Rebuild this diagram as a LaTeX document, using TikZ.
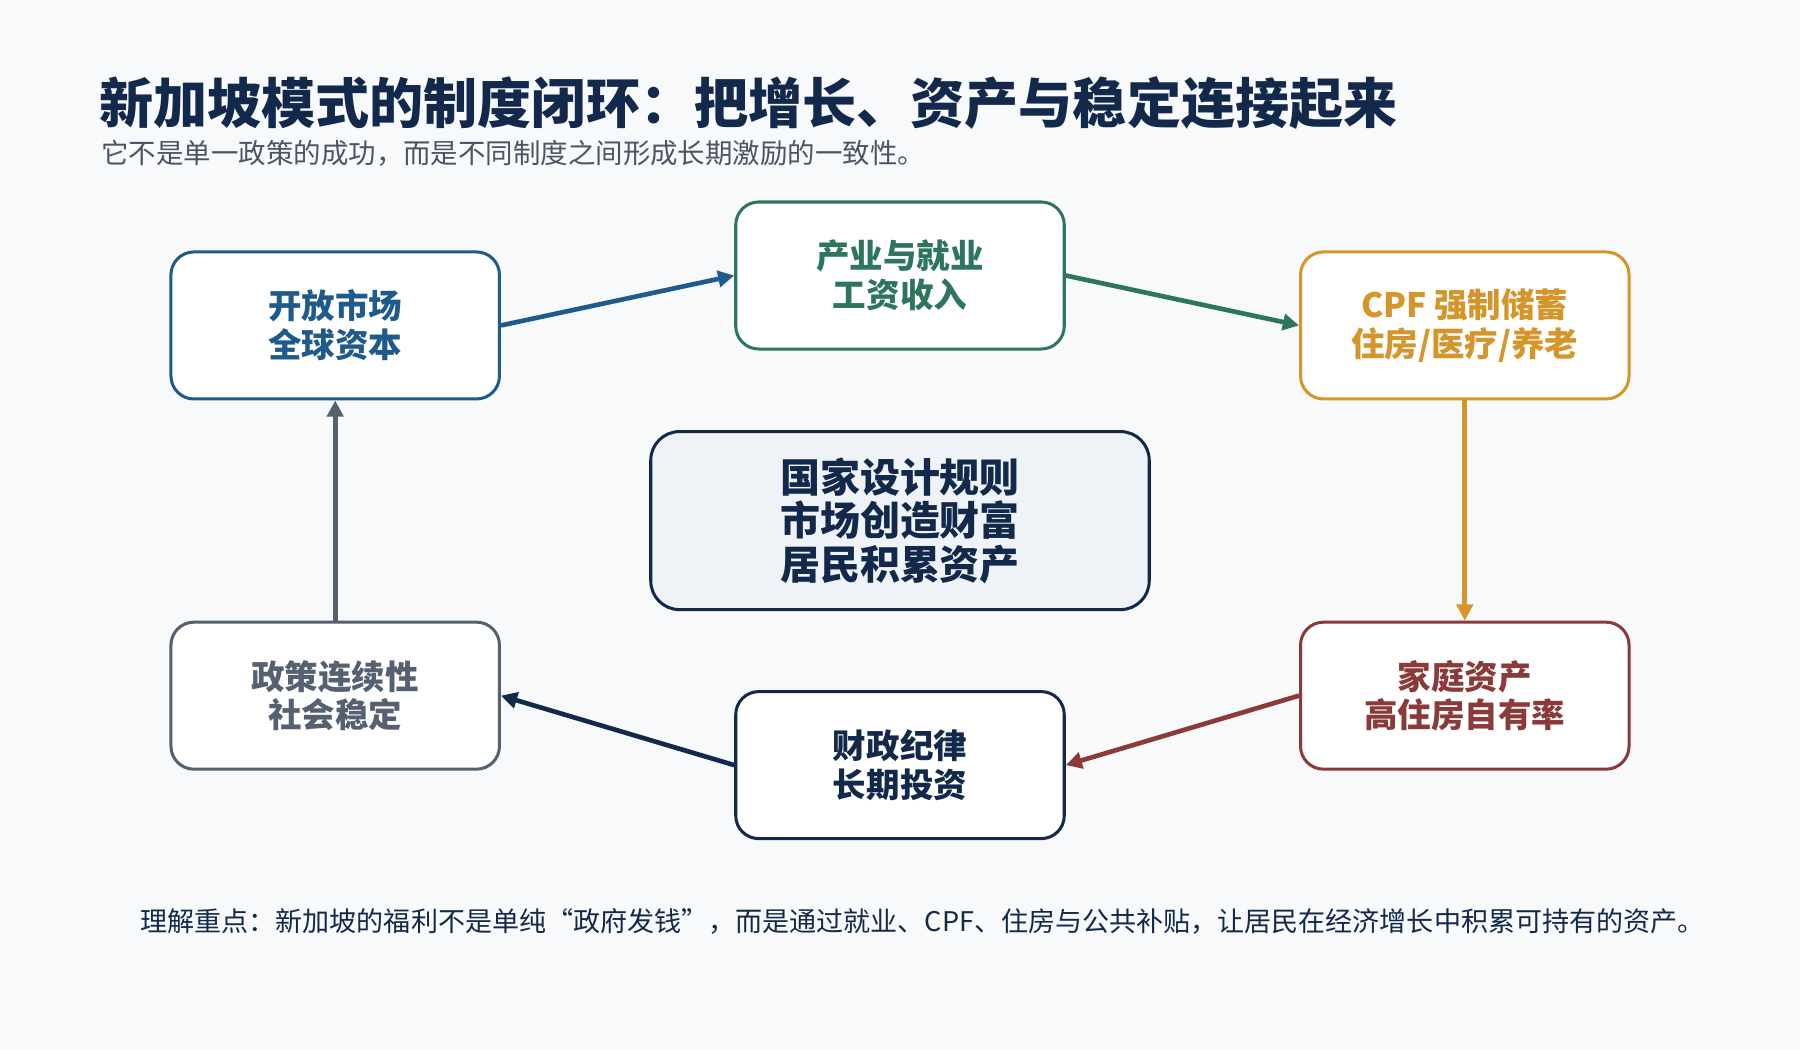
\documentclass[tikz,border=0pt]{standalone}
\usepackage{fontspec}
\setmainfont{Noto Sans CJK SC}
\usetikzlibrary{arrows.meta}
\definecolor{bg}{HTML}{F7F9FB}
\definecolor{cblue}{HTML}{1F5A8C}
\definecolor{cgreen}{HTML}{2E7560}
\definecolor{cgold}{HTML}{D4962A}
\definecolor{cred}{HTML}{8B3A3A}
\definecolor{cnavy}{HTML}{13294B}
\definecolor{cgrey}{HTML}{556070}
\definecolor{ctitle}{HTML}{13294B}
\definecolor{csub}{HTML}{4A5563}
\begin{document}
\begin{tikzpicture}[x=0.01cm,y=-0.01cm,
  box/.style={draw=#1,text=#1,fill=white,line width=0.75pt,rounded corners=0.2cm,
    minimum width=2.86cm,minimum height=1.28cm,align=center,
    font=\fontsize{8.3pt}{9.6pt}\selectfont\bfseries},
  arr/.style={draw=#1,line width=1.15pt,-{Triangle[length=4pt,width=4pt]}}]
\fill[bg] (0,0) rectangle (1568,915);
\useasboundingbox (0,0) rectangle (1568,915);
\node[anchor=west,text=ctitle,font=\fontsize{13.4pt}{14pt}\selectfont\bfseries] (title) at (74,90) {新加坡模式的制度闭环：把增长、资产与稳定连接起来};
\node[anchor=west,text=csub,font=\fontsize{6.8pt}{8pt}\selectfont] (sub) at (76,134) {它不是单一政策的成功，而是不同制度之间形成长期激励的一致性。};
\node[box=cblue] (a) at (292,283.5) {开放市场\\全球资本};
\node[box=cgreen] (b) at (784,240) {产业与就业\\工资收入};
\node[box=cgold] (c) at (1276,283.5) {CPF 强制储蓄\\住房/医疗/养老};
\node[box=cred] (d) at (1276,606) {家庭资产\\高住房自有率};
\node[box=cnavy] (e) at (784,666.5) {财政纪律\\长期投资};
\node[box=cgrey] (f) at (292,606) {政策连续性\\社会稳定};
\node[draw=cnavy,text=cnavy,fill=cblue!7,line width=0.75pt,rounded corners=0.25cm,
  minimum width=4.34cm,minimum height=1.55cm,align=center,
  font=\fontsize{9.9pt}{10.8pt}\selectfont\bfseries] (m) at (784,453.5) {国家设计规则\\市场创造财富\\居民积累资产};
\draw[arr=cblue] (a.east) -- (b.west);
\draw[arr=cgreen] (b.east) -- (c.west);
\draw[arr=cgold] (c.south) -- (d.north);
\draw[arr=cred] (d.west) -- (e.east);
\draw[arr=cnavy] (e.west) -- (f.east);
\draw[arr=cgrey] (f.north) -- (a.south);
\node[anchor=west,text=cnavy,font=\fontsize{6.7pt}{8pt}\selectfont] (foot) at (110,803) {理解重点：新加坡的福利不是单纯“政府发钱”，而是通过就业、CPF、住房与公共补贴，让居民在经济增长中积累可持有的资产。};
\end{tikzpicture}
\end{document}
